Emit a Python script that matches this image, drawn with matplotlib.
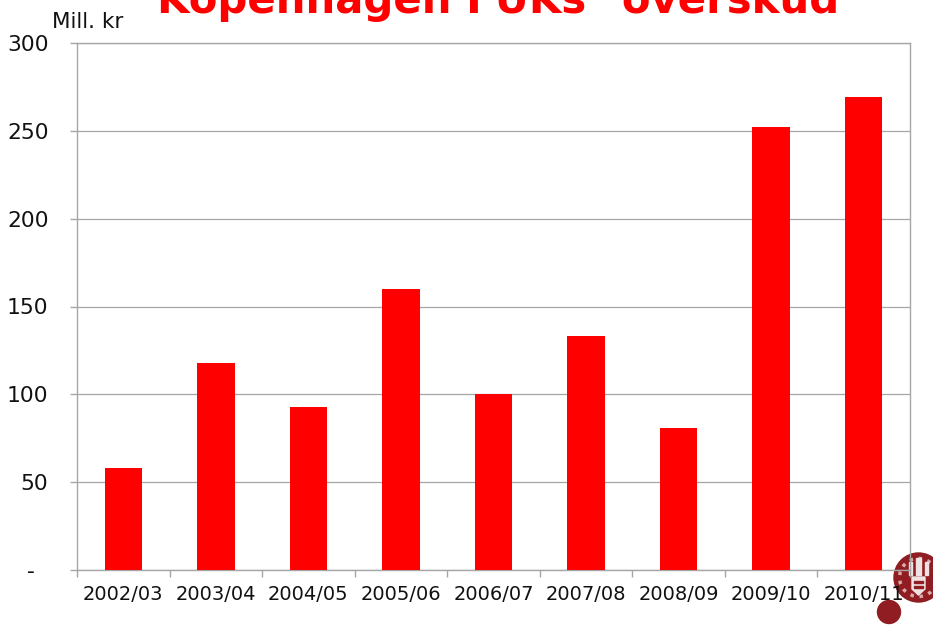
import matplotlib
matplotlib.use('Agg')
import matplotlib.pyplot as plt
from matplotlib.patches import Circle, Polygon, Rectangle

# Values in mill. kr per year
years = ['2002/03', '2003/04', '2004/05', '2005/06', '2006/07',
         '2007/08', '2008/09', '2009/10', '2010/11']
surplus = [58, 118, 93, 160, 100, 133, 81, 252, 269]
y_ticks = [0, 50, 100, 150, 200, 250, 300]
y_labels = ['-  ', '50', '100', '150', '200', '250', '300']

W, H = 933, 629
fig = plt.figure(figsize=(W / 100, H / 100), dpi=100)

# University seal and dot in the lower right corner, behind the chart
seal = fig.add_axes([0, 0, 1, 1], facecolor='none')
seal.set_xlim(0, W)
seal.set_ylim(H, 0)
seal.axis('off')
dark = '#8f1d22'
light = '#f0e2e2'
seal.add_patch(Circle((918.5, 577.5), 24.5, color=dark))
seal.add_patch(Circle((918.5, 577.5), 19, fill=False, ec='#d9a9ab', lw=2.5, ls=':'))
seal.add_patch(Polygon([(912, 577), (925, 577), (925, 589), (918.5, 595), (912, 589)], color=light))
seal.add_patch(Rectangle((914, 581), 9, 1.5, color=dark))
seal.add_patch(Rectangle((914, 586), 9, 1.5, color=dark))
seal.add_patch(Rectangle((909, 562), 3, 13, color=light))
seal.add_patch(Rectangle((916, 558), 5, 17, color=light))
seal.add_patch(Rectangle((925, 562), 3, 13, color=light))
seal.add_patch(Circle((889, 612), 11.5, color=dark))

ax = fig.add_axes([77 / W, 1 - 570 / H, 833 / W, 527 / H])
ax.patch.set_alpha(0)

ax.bar(range(len(years)), surplus, width=0.405, color='#ff0000', zorder=3)
ax.set_xlim(-0.5, len(years) - 0.5)
ax.set_ylim(0, 300)

ax.set_yticks(y_ticks)
ax.set_yticklabels(y_labels, fontsize=15.7, color='#111111')
ax.set_xticks([i - 0.5 for i in range(len(years) + 1)])
ax.set_xticklabels([])
for i, label in enumerate(years):
    ax.annotate(label, (i, 0), xytext=(0, -25), xycoords=('data', 'axes fraction'),
                textcoords='offset pixels',
                ha='center', va='center', fontsize=14, color='#111111')

ax.grid(axis='y', color='#a6a6a6', linewidth=0.9, zorder=1)
ax.tick_params(axis='y', length=5, color='#a6a6a6', width=1, pad=15.5)
ax.tick_params(axis='x', length=5, color='#a6a6a6', width=1)
for spine in ax.spines.values():
    spine.set_color('#a6a6a6')
    spine.set_linewidth(1)

fig.text(88 / W, 1 - 22 / H, 'Mill. kr', ha='center', va='center', fontsize=15.5, color='#111111')
fig.text(498 / W, 1 - 13 / H, 'Kopenhagen FUKs\u00b4 overskud', ha='center', va='baseline',
         fontsize=30.2, fontweight='bold', color='#ff0000')

fig.savefig('out.png', dpi=100)
